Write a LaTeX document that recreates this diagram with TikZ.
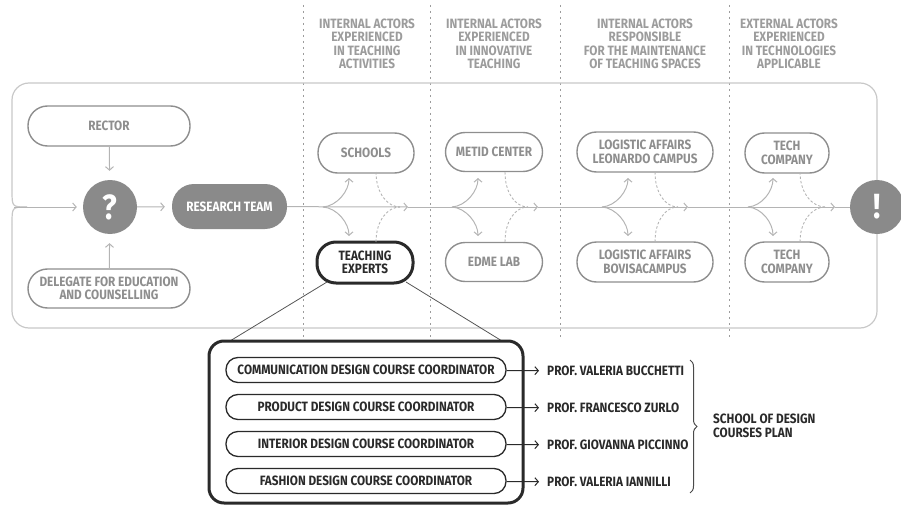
\documentclass[tikz,border=0pt]{standalone}
\usepackage{fontspec}
\setmainfont{Fira Sans}[FakeStretch=0.87]
\usetikzlibrary{arrows.meta,decorations.pathreplacing,calc}
\definecolor{lgray}{HTML}{B4B4B4}
\definecolor{ngray}{HTML}{8E8E8E}
\definecolor{hgray}{HTML}{9C9C9C}
\definecolor{fgray}{HTML}{8A8A8A}
\definecolor{dark}{HTML}{2A2A2A}
\definecolor{frm}{HTML}{C8C8C8}
\begin{document}
\begin{tikzpicture}[x=1pt,y=-1pt,
  >={Straight Barb[length=3.5pt,width=8pt]},
  every node/.style={font=\bfseries\fontsize{13.5}{13.5}\selectfont, inner sep=0pt, align=center},
  hdr/.style={text=hgray},
  pill/.style={draw=ngray, line width=1.4pt, text=ngray, rounded corners=19.5pt, minimum height=40},
  dpill/.style={fill=fgray, text=white, rounded corners=22pt, minimum height=45},
  tpill/.style={draw=dark, line width=3pt, text=dark, rounded corners=19pt, minimum height=41},
  cpill/.style={draw=dark, line width=1.3pt, text=dark, rounded corners=12pt, minimum height=25, minimum width=280},
  bigc/.style={circle, fill=fgray, text=white, minimum size=54, font=\bfseries\fontsize{35}{35}\selectfont},
  conn/.style={draw=lgray, line width=1pt},
  dconn/.style={draw=lgray, line width=0.9pt, dash pattern=on 2.5pt off 2pt},
  vline/.style={draw=hgray, line width=0.9pt, dash pattern=on 2pt off 4pt},
  frame/.style={draw=frm, line width=1.2pt},
  dline/.style={draw=dark, line width=1pt}
]
\useasboundingbox (0,0) rectangle (901,505);

% column separators
\foreach \x [count=\i] in {303,430,560,729}{
  \coordinate (vt\i) at (\x,5);
  \coordinate (vb\i) at (\x,340);
  \draw[vline] (vt\i) -- (vb\i);
}

% headers
\node[hdr] (h1) at (367,44) {INTERNAL ACTORS\\EXPERIENCED\\IN TEACHING\\ACTIVITIES};
\node[hdr] (h2) at (494,44) {INTERNAL ACTORS\\EXPERIENCED\\IN INNOVATIVE\\TEACHING};
\node[hdr] (h3) at (645,44) {INTERNAL ACTORS\\RESPONSIBLE\\FOR THE MAINTENANCE\\OF TEACHING SPACES};
\node[hdr] (h4) at (789,44) {EXTERNAL ACTORS\\EXPERIENCED\\IN TECHNOLOGIES\\APPLICABLE};

% frame
\draw[frame, rounded corners=17pt] (12,190) |- (877,83) -- (877,328) -| (12,224);
\coordinate (jn) at (27,207);
\draw[frame] (12,190) .. controls (12,207) .. (jn);
\draw[frame] (12,224) .. controls (12,207) .. (jn);

% left nodes
\node[pill, minimum width=162] (rector) at (109,126) {RECTOR};
\node[pill, minimum width=162, minimum height=39] (del) at (109,288.5) {DELEGATE FOR EDUCATION\\AND COUNSELLING};
\node[bigc] (q) at (110,207) {?};
\node[dpill, minimum width=115] (rt) at (229.5,206.5) {RESEARCH TEAM};
\node[bigc] (ex) at (877,207) {!};

% column nodes
\node[pill, minimum width=96] (sch) at (366,153) {SCHOOLS};
\node[tpill, minimum width=96] (te) at (365,262.5) {TEACHING\\EXPERTS};
\node[pill, minimum width=97, minimum height=39] (met) at (494,152) {METID CENTER};
\node[pill, minimum width=97, minimum height=39] (edm) at (494,262) {EDME LAB};
\node[pill, minimum width=136] (leo) at (645,152) {LOGISTIC AFFAIRS\\LEONARDO CAMPUS};
\node[pill, minimum width=136] (bov) at (645,262) {LOGISTIC AFFAIRS\\BOVISACAMPUS};
\node[pill, minimum width=84] (tc1) at (787,153) {TECH\\COMPANY};
\node[pill, minimum width=84] (tc2) at (787,262) {TECH\\COMPANY};

% main line
\coordinate (in) at (14,207);
\draw[conn, ->, shorten >=6pt] (in) -- (q);
\draw[conn, ->, shorten >=7pt] (q) -- (rt);
\coordinate (a1) at (408,207);
\coordinate (a2) at (538,207);
\coordinate (a3) at (688,207);
\coordinate (a4) at (835,207);
\draw[conn, ->] (rt) -- (a1);
\draw[conn, ->] (a1) -- (a2);
\draw[conn, ->] (a2) -- (a3);
\draw[conn, ->] (a3) -- (a4);
\draw[conn] (a4) -- (ex);

% vertical arrows
\draw[conn, ->, shorten >=9pt] (rector) -- (q);
\draw[conn, ->, shorten >=9pt] (del) -- (q);

% split / merge curves
\foreach \s/\t/\d/\m [count=\i] in {323/349/376/400, 452/478/505/528, 602/628/655/678, 748/773/800/825}{
  \coordinate (sp\i) at (\s,207);
  \coordinate (tu\i) at (\t,178);
  \coordinate (td\i) at (\t,236);
  \coordinate (du\i) at (\d,172);
  \coordinate (dd\i) at (\d,242);
  \coordinate (mg\i) at (\m,207);
  \draw[conn, ->] (sp\i) .. controls +(14,-1) and +(0,13) .. (tu\i);
  \draw[conn, ->] (sp\i) .. controls +(14,1) and +(0,-13) .. (td\i);
  \draw[dconn] (du\i) .. controls +(0,22) and +(-12,0) .. (mg\i);
  \draw[dconn] (dd\i) .. controls +(0,-22) and +(-12,0) .. (mg\i);
}

% zoom lines to course box
\coordinate (tel) at (327,282);
\coordinate (ter) at (406,282);
\coordinate (bxl) at (230,341);
\coordinate (bxr) at (502,341);
\draw[draw=dark!80, line width=0.8pt] (tel) -- (bxl);
\draw[draw=dark!80, line width=0.8pt] (ter) -- (bxr);

% course box
\node[draw=dark, line width=3pt, rounded corners=15pt, minimum width=314, minimum height=162] (box) at (366,422) {};
\node[cpill] (c1) at (366,370) {COMMUNICATION DESIGN COURSE COORDINATOR};
\node[cpill] (c2) at (366,407) {PRODUCT DESIGN COURSE COORDINATOR};
\node[cpill] (c3) at (366,444) {INTERIOR DESIGN COURSE COORDINATOR};
\node[cpill] (c4) at (366,481) {FASHION DESIGN COURSE COORDINATOR};

\node[anchor=west, text=dark] (p1) at (547,371) {PROF. VALERIA BUCCHETTI};
\node[anchor=west, text=dark] (p2) at (547,408) {PROF. FRANCESCO ZURLO};
\node[anchor=west, text=dark] (p3) at (547,445) {PROF. GIOVANNA PICCINNO};
\node[anchor=west, text=dark] (p4) at (547,482) {PROF. VALERIA IANNILLI};
\foreach \i in {1,...,4}{
  \draw[dline, ->, shorten >=8pt] (c\i) -- (p\i);
}

\coordinate (br1) at (690,360);
\coordinate (br2) at (690,493);
\draw[draw=dark!85, line width=1pt, decorate, decoration={brace, amplitude=7pt}] (br1) -- (br2);
\node[anchor=west, align=left, text=dark] (sdp) at (713,426) {SCHOOL OF DESIGN\\COURSES PLAN};
\end{tikzpicture}
\end{document}
